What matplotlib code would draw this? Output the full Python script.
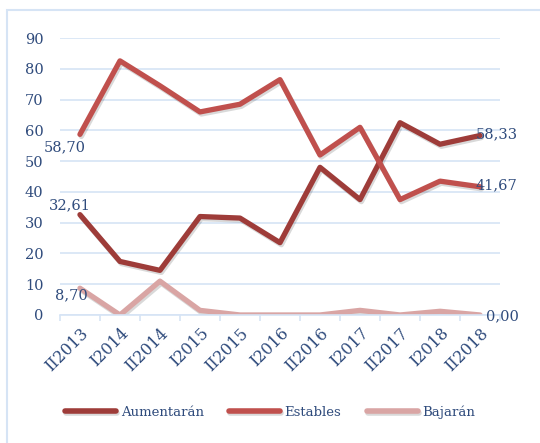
import matplotlib
matplotlib.use('Agg')
import matplotlib.pyplot as plt
import matplotlib.patheffects as pe
from matplotlib.patches import Rectangle

plt.rcParams['font.family'] = ['DejaVu Serif']

periodos = ['II2013', 'I2014', 'II2014', 'I2015', 'II2015', 'I2016',
            'II2016', 'I2017', 'II2017', 'I2018', 'II2018']
aumentaran = [32.61, 17.4, 14.5, 32.0, 31.5, 23.5, 48.0, 37.5, 62.5, 55.5, 58.33]
estables = [58.70, 82.6, 74.5, 66.0, 68.5, 76.5, 52.0, 61.0, 37.5, 43.5, 41.67]
bajaran = [8.70, 0.0, 11.0, 1.5, 0.0, 0.0, 0.0, 1.5, 0.0, 1.2, 0.0]

txt = '#2F4B7C'
grid = '#D6E4F5'
fs = 10.5

fig = plt.figure(figsize=(5.4, 4.43), dpi=100)
ax = fig.add_axes([0.111, 0.289, 0.815, 0.625])

fig.patches.append(Rectangle((0.013, -0.02), 1.0, 0.997, transform=fig.transFigure,
                             fill=False, edgecolor=grid, linewidth=1.5))

x = list(range(len(periodos)))
sombra = [pe.SimpleLineShadow(offset=(1, -1.5), alpha=0.15), pe.Normal()]
series = [
    ('Aumentarán', aumentaran, '#9E3C39'),
    ('Estables', estables, '#C0504D'),
    ('Bajarán', bajaran, '#D9A5A4'),
]
for nombre, valores, color in series:
    ax.plot(x, valores, color=color, linewidth=3.8, label=nombre,
            solid_capstyle='round', solid_joinstyle='round', path_effects=sombra)

def fmt(v):
    return f'{v:.2f}'.replace('.', ',')

# etiquetas de inicio y fin
etiquetas = [
    (0, estables[0], (-11, -9), 'center'),
    (0, aumentaran[0], (-7, 7), 'center'),
    (0, bajaran[0], (-6, -5), 'center'),
    (10, aumentaran[-1], (-3, 1), 'left'),
    (10, estables[-1], (-3, 1), 'left'),
    (10, bajaran[-1], (4, -1), 'left'),
]
for xi, v, off, ha in etiquetas:
    ax.annotate(fmt(v), (xi, v), xytext=off, textcoords='offset points',
                ha=ha, va='center', fontsize=fs, color=txt)

ax.set_xlim(-0.5, 10.5)
ax.set_ylim(0, 90)
ax.set_yticks(range(0, 91, 10))
ax.set_xticks(x)
ax.set_xticklabels(periodos, rotation=45, ha='right', rotation_mode='anchor')
ax.set_xticks([i + 0.5 for i in range(-1, 11)], minor=True)
ax.tick_params(axis='x', which='major', length=0, labelsize=11.5, labelcolor=txt, pad=7)
ax.tick_params(axis='x', which='minor', length=4, color=grid, width=1.2)
ax.tick_params(axis='y', length=0, labelsize=fs, labelcolor=txt, pad=12)
ax.grid(axis='y', color=grid, linewidth=1.2)
ax.set_axisbelow(True)
for s in ['top', 'right', 'left']:
    ax.spines[s].set_visible(False)
ax.spines['bottom'].set_color(grid)
ax.spines['bottom'].set_linewidth(1.2)

leg = fig.legend(loc='center', bbox_to_anchor=(0.5, 0.07), ncol=3, frameon=False,
                 fontsize=9.5, handlelength=3.9, columnspacing=1.9, handletextpad=0.35)
for t in leg.get_texts():
    t.set_color(txt)
for h in leg.get_lines():
    h.set_linewidth(4)
    h.set_solid_capstyle('round')

fig.savefig('out.png', dpi=100)
